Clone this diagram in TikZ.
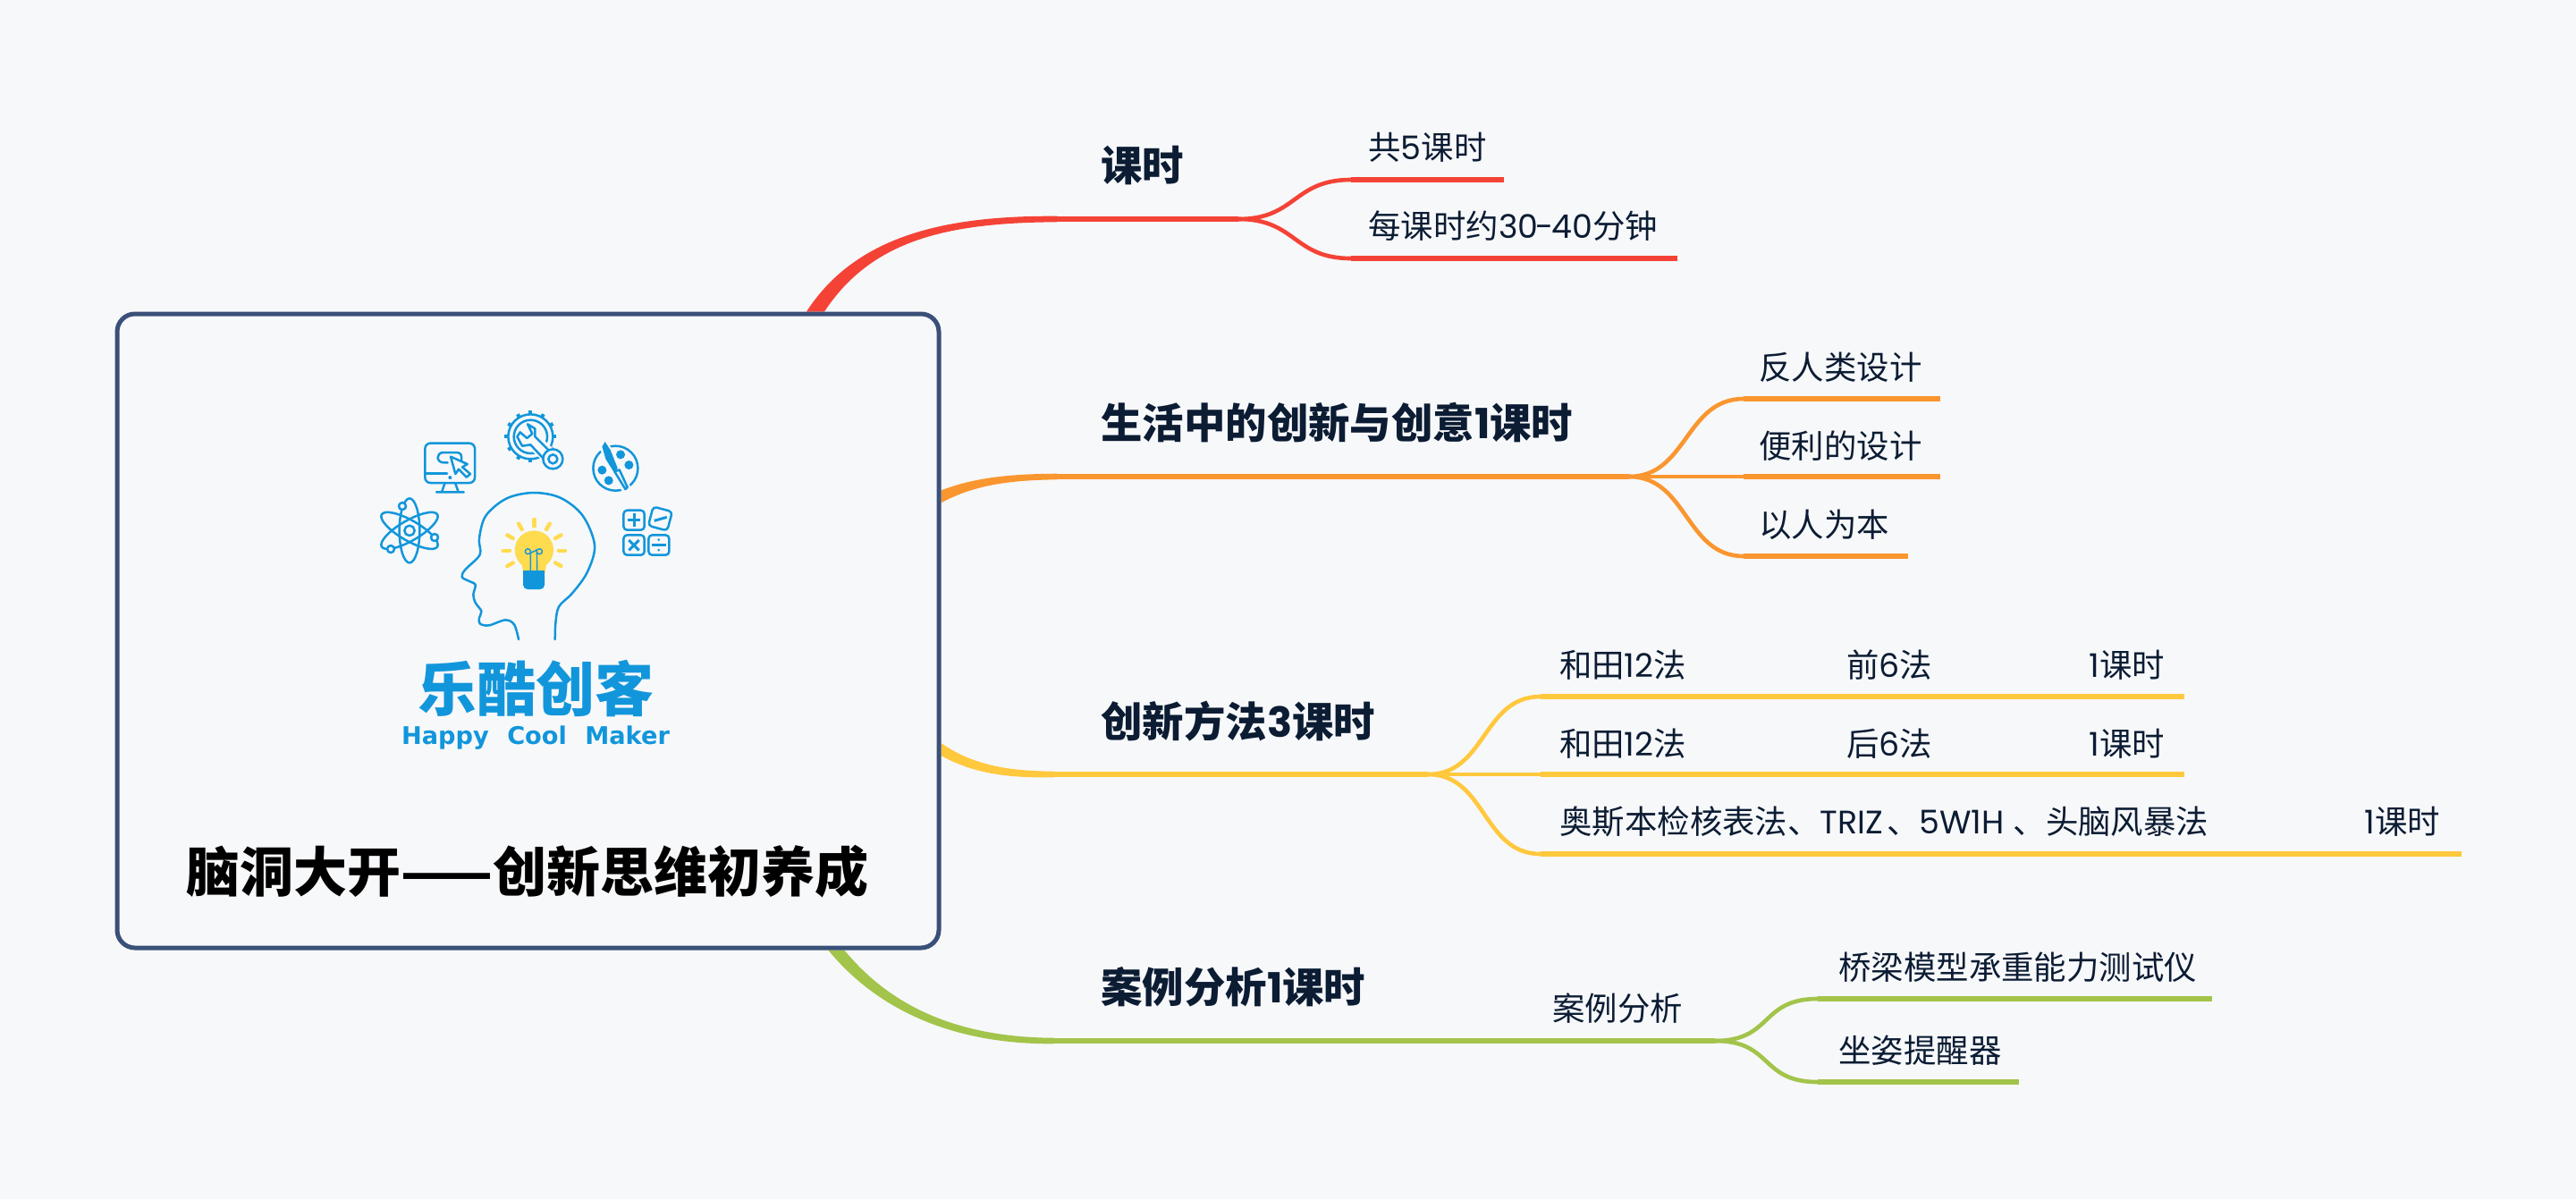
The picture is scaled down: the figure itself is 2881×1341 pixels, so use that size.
\documentclass[tikz,border=0pt]{standalone}
\usepackage{fontspec}
\setmainfont{Noto Sans CJK SC}
\newfontfamily\latfont{Poppins}
\newfontfamily\logofont{DejaVu Sans}
\newcommand{\lat}[1]{{\latfont #1}}
\usetikzlibrary{backgrounds}
\definecolor{pagebg}{HTML}{F7F8FA}
\definecolor{rootblue}{HTML}{3A5078}
\definecolor{inkdark}{HTML}{0B1C33}
\definecolor{logoblue}{HTML}{1296DB}
\definecolor{bulbyellow}{HTML}{FFDB4F}
\definecolor{redline}{HTML}{F44336}
\definecolor{orangeline}{HTML}{FA962F}
\definecolor{yellowline}{HTML}{FFC83D}
\definecolor{greenline}{HTML}{A2C44A}
\tikzset{
  node distance=44pt, auto,
  rootbox/.style={draw=rootblue, fill=pagebg, line width=2.5pt, rounded corners=10pt, minimum width=459.5pt, minimum height=354.5pt, inner sep=0pt},
  title/.style={font=\bfseries\fontsize{30pt}{35pt}\selectfont, text=black, inner sep=0pt},
  topic/.style={anchor=west, font=\bfseries\fontsize{23.2pt}{28pt}\selectfont, text=inkdark, inner sep=0pt},
  leaf/.style={font=\fontsize{18.2pt}{22pt}\selectfont, text=inkdark, inner sep=0pt},
  leafw/.style={leaf, anchor=west},
  trunk/.style={line width=3.3pt},
  twig/.style={line width=2.3pt},
  bar/.style={line width=2.9pt},
  logoline/.style={draw=logoblue, line width=1.25pt, line join=round, line cap=round},
  ray/.style={draw=bulbyellow, line width=2.2pt, line cap=round}
}

\begin{document}
\begin{tikzpicture}[x=0.5pt, y=-0.5pt]
  \useasboundingbox (0,0) rectangle (2881,1341);
  \node (root) [rootbox] at (590.5,705.5) {};
  \node (maintitle) [title] at (590,975) {脑洞大开——创新思维初养成};

  \node (keshi) [topic] at (1231,185) {课时};
  \node (life) [topic] at (1231,473) {生活中的创新与创意\lat{1}课时};
  \node (method) [topic] at (1231,807) {创新方法\lat{3}课时};
  \node (case) [topic] at (1231,1104) {案例分析\lat{1}课时};

  \node (total) [leafw] at (1530,165) {共\lat{5}课时};
  \node (each) [leafw] at (1530,253) {每课时约\lat{30\kern-1.2pt-\kern-1.2pt40}分钟};

  \node (anti) [leafw] at (1967,411) {反人类设计};
  \node (handy) [leafw] at (1967,499) {便利的设计};
  \node (people) [leafw] at (1967,587) {以人为本};

  \node (wada) [leaf] at (1815,744) {和田\lat{12}法};
  \node (front) [leaf, right of=wada, node distance=149pt] {前\lat{6}法};
  \node (fronth) [leaf, right of=front, node distance=133pt] {\lat{1}课时};
  \node (wadab) [leaf, below of=wada] {和田\lat{12}法};
  \node (back) [leaf, below of=front] {后\lat{6}法};
  \node (backh) [leaf, below of=fronth] {\lat{1}课时};
  \node (osborn) [leafw] at (1744,919) {奥斯本检核表法、\lat{TRIZ}\kern2pt、\lat{5W1H}\kern5pt、头脑风暴法};
  \node (osbornh) [leafw] at (2644,919) {\lat{1}课时};

  \node (caseb) [leafw] at (1736,1128) {案例分析};
  \node (bridge) [leafw] at (2056,1082) {桥梁模型承重能力测试仪};
  \node (sit) [leafw] at (2056,1175) {坐姿提醒器};

  \coordinate (redbend) at (1182,245);
  \coordinate (redfork) at (1385,245);
  \coordinate (orangebend) at (1182,533);
  \coordinate (orangefork) at (1822,533);
  \coordinate (yellowbend) at (1178,866);
  \coordinate (yellowfork) at (1597,866);
  \coordinate (greenbend) at (1178,1164);
  \coordinate (greenfork) at (1918,1164);

  \coordinate (totalin) at (1511,201);
  \coordinate (totalend) at (1682,201);
  \coordinate (eachin) at (1511,289);
  \coordinate (eachend) at (1876,289);
  \coordinate (antiin) at (1950,446);
  \coordinate (antiend) at (2170,446);
  \coordinate (handyin) at (1950,533);
  \coordinate (handyend) at (2170,533);
  \coordinate (peoplein) at (1950,622);
  \coordinate (peopleend) at (2134,622);
  \coordinate (wadain) at (1723,779);
  \coordinate (wadaend) at (2443,779);
  \coordinate (wadabin) at (1723,866);
  \coordinate (wadabend) at (2443,866);
  \coordinate (osbornin) at (1723,955);
  \coordinate (osbornend) at (2753,955);
  \coordinate (bridgein) at (2033,1117);
  \coordinate (bridgeend) at (2474,1117);
  \coordinate (sitin) at (2033,1210);
  \coordinate (sitend) at (2258,1210);

  \begin{scope}[on background layer]
    \fill[pagebg] (0,0) rectangle (2881,1341);
    \fill[redline] ([shift={(-10,0)}]root.48.9) .. controls (958,262) and (1060,241) .. ([shift={(0,-3.3)}]redbend) -- ([shift={(0,3.3)}]redbend) .. controls (1060,249) and (975,268) .. ([shift={(10,0)}]root.48.9) -- cycle;
    \fill[orangeline] ([shift={(0,-7)}]root.18.3) .. controls (1090,534) and (1130,530) .. ([shift={(0,-3.3)}]orangebend) -- ([shift={(0,3.3)}]orangebend) .. controls (1130,537) and (1090,542) .. ([shift={(0,7)}]root.18.3) -- cycle;
    \fill[yellowline] ([shift={(0,-7)}]root.-16.5) .. controls (1090,857) and (1130,862) .. ([shift={(0,-3.3)}]yellowbend) -- ([shift={(0,3.3)}]yellowbend) .. controls (1130,870) and (1090,866) .. ([shift={(0,7)}]root.-16.5) -- cycle;
    \fill[greenline] ([shift={(9,0)}]root.-46.2) .. controls (990,1118) and (1060,1160) .. ([shift={(0,-3.3)}]greenbend) -- ([shift={(0,3.3)}]greenbend) .. controls (1055,1168) and (975,1122) .. ([shift={(-9,0)}]root.-46.2) -- cycle;
  \end{scope}

  \draw[trunk, redline] (redbend) -- (redfork);
  \draw[trunk, orangeline] (orangebend) -- (orangefork);
  \draw[trunk, yellowline] (yellowbend) -- (yellowfork);
  \draw[trunk, greenline] (greenbend) -- (greenfork);

  \foreach \fork/\tip/\stop/\col in {redfork/totalin/totalend/redline, redfork/eachin/eachend/redline, orangefork/antiin/antiend/orangeline, orangefork/handyin/handyend/orangeline, orangefork/peoplein/peopleend/orangeline, yellowfork/wadain/wadaend/yellowline, yellowfork/wadabin/wadabend/yellowline, yellowfork/osbornin/osbornend/yellowline, greenfork/bridgein/bridgeend/greenline, greenfork/sitin/sitend/greenline} {
    \draw[twig, \col] (\fork) .. controls +(65,0) and +(-65,0) .. (\tip);
    \draw[bar, \col] (\tip) -- (\stop);
  }

  \begin{scope}[shift={(380,420)}, x=0.1667pt, y=-0.1667pt]
    \draw[logoline] plot[smooth, tension=0.55] coordinates {(600,885) (585,835) (555,820) (500,838) (470,832) (468,812) (475,790) (455,762) (448,735) (455,702) (435,690) (410,676) (420,652) (462,612) (472,590) (468,545) (490,470) (560,412) (650,393) (740,410) (815,470) (855,570) (830,660) (780,730) (735,775) (724,830) (722,885)};

    \fill[bulbyellow] (652,585) circle (65);
    \fill[bulbyellow] (610,625) -- (694,625) -- (688,665) -- (616,665) -- cycle;
    \fill[logoblue, rounded corners=2.5pt] (615,655) -- (687,655) -- (687,717) -- (615,717) -- cycle;
    \fill[logoblue] (615,655) rectangle (687,680);
    \draw[logoblue, line width=0.7pt] (640,655) -- (640,590) arc (0:-270:9) -- (670,581) arc (-90:180:9) -- (662,655);
    \foreach \a in {0,30,150,180,210,240,270,300,330} {
      \draw[ray] (652,587) ++(\a:82) -- ++(\a:22);
    }

    \draw[logoline] (234,520) circle (17);
    \draw[logoline] (234,520) ellipse (34 and 108);
    \draw[logoline, rotate around={60:(234,520)}] (234,520) ellipse (34 and 108);
    \draw[logoline, rotate around={-60:(234,520)}] (234,520) ellipse (34 and 108);
    \foreach \px/\py in {210/438, 318/543, 171/582} {
      \draw[logoline, fill=pagebg] (\px,\py) circle (12);
    }

    \draw[logoline, rounded corners=3pt] (286,227) rectangle (453,360);
    \draw[logoline] (290,328) -- (360,328);
    \fill[logoblue] (370,342) circle (6);
    \draw[logoline] (352,362) -- (342,391) (388,362) -- (398,391) (324,391) -- (416,391);
    \draw[logoline] (408,288) -- (408,272) .. controls (408,262) and (400,258) .. (390,258) -- (348,258) .. controls (322,258) and (322,292) .. (350,292) -- (362,292);
    \draw[logoline, fill=pagebg] (372,272) -- (428,297) -- (411,307) -- (438,330) -- (425,341) -- (399,314) -- (388,330) -- cycle;

    \draw[logoline] (640,205) circle (75);
    \foreach \a in {0,30,...,330} {
      \draw[logoblue, line width=2pt] (640,205) ++(\a:74) -- ++(\a:13);
    }
    \draw[logoline] (640,205) circle (56);
    \draw[pagebg, line width=9pt] (665,235) -- (720,285);
    \draw[logoline, fill=pagebg] (630,163) -- (655,178) -- (655,205) -- (700,250) -- (680,275) -- (640,232) -- (612,236) -- (595,205) -- (605,190) -- (628,210) -- (646,195) -- cycle;
    \draw[logoline, fill=pagebg] (715,280) circle (33);
    \draw[logoline] (715,280) circle (15);

    \draw[logoline] (925,311) circle (75);
    \foreach \px/\py in {942/265, 970/300, 880/317, 902/352} {
      \fill[logoblue] (\px,\py) circle (15);
    }
    \fill[pagebg] (870,240) -- (895,215) -- (945,305) -- (980,385) -- (950,392) -- (905,320) -- cycle;
    \fill[logoblue] (880,238) -- (890,222) -- (908,250) -- (932,310) -- (922,328) -- (892,280) -- cycle;
    \draw[logoline, fill=pagebg] (922,322) -- (938,316) -- (965,375) -- (958,381) -- cycle;

    \draw[logoline, rounded corners=2pt] (952,452) rectangle (1022,518);
    \draw[logoline, rounded corners=2pt] (952,535) rectangle (1022,602);
    \draw[logoline, rounded corners=2pt] (1036,535) rectangle (1105,602);
    \draw[logoline, rounded corners=2pt, rotate around={-15:(1075,480)}] (1042,447) rectangle (1108,513);
    \draw[logoblue, line width=1.5pt] (965,485) -- (1009,485) (987,463) -- (987,507);
    \draw[logoblue, line width=1.5pt] (970,552) -- (1004,586) (1004,552) -- (970,586);
    \draw[logoblue, line width=1.2pt] (1048,568) -- (1094,568);
    \fill[logoblue] (1070,551) circle (4.5) (1070,585) circle (4.5);
    \draw[logoblue, line width=1.5pt] (1055,487) -- (1097,475);
  \end{scope}

  \node (logocn) [font=\bfseries\fontsize{33pt}{37pt}\selectfont, text=logoblue, inner sep=0pt] at (599,770) {乐酷创客};
  \node (logoen) [font=\logofont\bfseries\fontsize{13.6pt}{16pt}\selectfont, text=logoblue, inner sep=0pt] at (599,825) {Happy\hspace{0.4em} Cool\hspace{0.4em} Maker};
\end{tikzpicture}
\end{document}
